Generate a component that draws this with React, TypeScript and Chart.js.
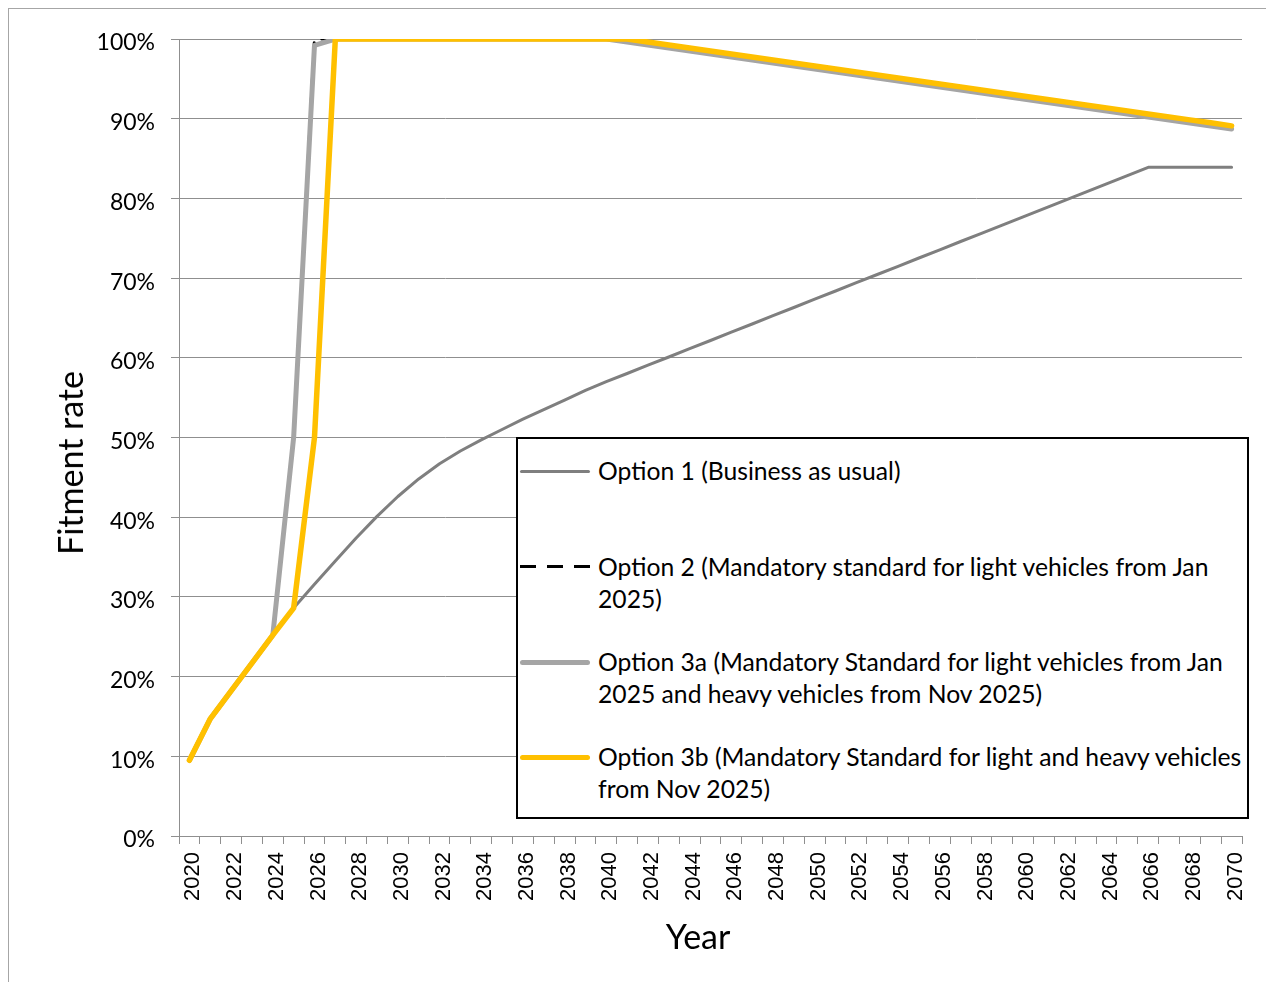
import React, { useEffect, useRef } from "react";
import { Chart, registerables } from "chart.js";

Chart.register(...registerables);

// Categories: calendar years
const years = [
  "2020", "2021", "2022", "2023", "2024", "2025", "2026", "2027", "2028", "2029",
  "2030", "2031", "2032", "2033", "2034", "2035", "2036", "2037", "2038", "2039",
  "2040", "2041", "2042", "2043", "2044", "2045", "2046", "2047", "2048", "2049",
  "2050", "2051", "2052", "2053", "2054", "2055", "2056", "2057", "2058", "2059",
  "2060", "2061", "2062", "2063", "2064", "2065", "2066", "2067", "2068", "2069",
  "2070",
];

// Fitment rate (%) by scenario
const option1 = [
  9.5, 14.7, 18.2, 21.7, 25.2, 28.6, 31.6, 34.5, 37.4, 40.1,
  42.6, 44.8, 46.7, 48.3, 49.7, 51.0, 52.3, 53.5, 54.7, 55.9,
  57.0, 58.03, 59.07, 60.1, 61.14, 62.17, 63.21, 64.24, 65.28, 66.31,
  67.35, 68.38, 69.42, 70.45, 71.48, 72.52, 73.55, 74.59, 75.62, 76.66,
  77.69, 78.73, 79.76, 80.8, 81.83, 82.87, 83.9, 83.9, 83.9, 83.9,
  83.9,
];

const option2 = [
  9.5, 14.7, 18.2, 21.7, 25.2, 50.0, 100, 100, 100, 100,
  100, 100, 100, 100, 100, 100, 100, 100, 100, 100,
  100, 99.62, 99.25, 98.87, 98.49, 98.12, 97.74, 97.36, 96.99, 96.61,
  96.23, 95.86, 95.48, 95.1, 94.73, 94.35, 93.97, 93.6, 93.22, 92.84,
  92.47, 92.09, 91.71, 91.34, 90.96, 90.58, 90.21, 89.83, 89.45, 89.08,
  88.7,
];

const option3a = [
  9.5, 14.7, 18.2, 21.7, 25.2, 50.0, 99.2, 100, 100, 100,
  100, 100, 100, 100, 100, 100, 100, 100, 100, 100,
  100, 99.62, 99.25, 98.87, 98.49, 98.12, 97.74, 97.36, 96.99, 96.61,
  96.23, 95.86, 95.48, 95.1, 94.73, 94.35, 93.97, 93.6, 93.22, 92.84,
  92.47, 92.09, 91.71, 91.34, 90.96, 90.58, 90.21, 89.83, 89.45, 89.08,
  88.7,
];

const option3b = [
  9.5, 14.7, 18.2, 21.7, 25.2, 28.6, 50.0, 100, 100, 100,
  100, 100, 100, 100, 100, 100, 100, 100, 100, 100,
  100, 100, 99.62, 99.25, 98.87, 98.5, 98.12, 97.74, 97.37, 96.99,
  96.62, 96.24, 95.87, 95.49, 95.11, 94.74, 94.36, 93.99, 93.61, 93.23,
  92.86, 92.48, 92.11, 91.73, 91.36, 90.98, 90.6, 90.23, 89.85, 89.48,
  89.1,
];

const legendLabels = [
  "Option 1 (Business as usual)",
  "Option 2 (Mandatory standard for light vehicles from Jan\n2025)",
  "Option 3a (Mandatory Standard for light vehicles from Jan\n2025 and heavy vehicles from Nov 2025)",
  "Option 3b (Mandatory Standard for light and heavy vehicles\nfrom Nov 2025)",
];

const GRID = "#8f8f8f";
const C_OPT1 = "#7f7f7f";
const C_OPT2 = "#000000";
const C_OPT3A = "#a5a5a5";
const C_OPT3B = "#ffc000";

const CANVAS_W = 1261;
const CANVAS_H = 973;

function LegendSample({ kind, top }: { kind: number; top: number }) {
  if (kind === 1) {
    // three dashes for the dashed series
    return (
      <>
        {[0, 27, 54].map((x) => (
          <div
            key={x}
            style={{
              position: "absolute",
              left: 2 + x,
              top: top - 1.5,
              width: 16,
              height: 3,
              background: C_OPT2,
            }}
          />
        ))}
      </>
    );
  }
  const color = kind === 0 ? C_OPT1 : kind === 2 ? C_OPT3A : C_OPT3B;
  const h = kind === 0 ? 3 : 5;
  return (
    <div
      style={{
        position: "absolute",
        left: 2,
        width: 70,
        top: top - h / 2,
        height: h,
        background: color,
        borderRadius: h / 2,
      }}
    />
  );
}

export default function App() {
  const canvasRef = useRef<HTMLCanvasElement | null>(null);

  useEffect(() => {
    if (!canvasRef.current) return;
    const chart = new Chart(canvasRef.current, {
      type: "line",
      data: {
        labels: years,
        datasets: [
          {
            label: legendLabels[0],
            data: option1,
            borderColor: C_OPT1,
            borderWidth: 3,
            order: 3,
          },
          {
            label: legendLabels[1],
            data: option2,
            borderColor: C_OPT2,
            borderWidth: 3,
            borderDash: [16, 11],
            order: 2,
          },
          {
            label: legendLabels[2],
            data: option3a,
            borderColor: C_OPT3A,
            borderWidth: 5,
            order: 1,
          },
          {
            label: legendLabels[3],
            data: option3b,
            borderColor: C_OPT3B,
            borderWidth: 5.5,
            order: 0,
          },
        ].map((d) => ({
          ...d,
          fill: false,
          tension: 0,
          pointRadius: 0,
          pointHoverRadius: 0,
          borderJoinStyle: "round" as const,
          borderCapStyle: "round" as const,
        })),
      },
      options: {
        animation: false,
        responsive: false,
        devicePixelRatio: 1,
        layout: { padding: { left: 0, right: 28, top: 30, bottom: 0 } },
        plugins: {
          legend: { display: false },
          tooltip: { enabled: false },
        },
        scales: {
          x: {
            type: "category",
            offset: true,
            grid: {
              display: true,
              drawOnChartArea: false,
              drawTicks: true,
              tickLength: 8,
              color: GRID,
              offset: true,
            },
            border: { display: true, color: GRID, width: 1 },
            ticks: {
              autoSkip: false,
              minRotation: 90,
              maxRotation: 90,
              padding: 8,
              labelOffset: 4,
              color: "#000",
              font: { family: "Liberation Sans", size: 22 },
              callback: (_v: any, i: number) => (i % 2 === 0 ? years[i] : ""),
            },
            afterFit: (s: any) => {
              s.height = CANVAS_H - 827;
            },
          },
          y: {
            min: 0,
            max: 100,
            grid: { color: GRID, tickLength: 8, drawTicks: true },
            border: { display: true, color: GRID, width: 1 },
            ticks: {
              stepSize: 10,
              padding: 16,
              labelOffset: 4,
              color: "#000",
              font: { family: "Lato", size: 23 },
              callback: (v: any) => v + "%",
            },
            afterFit: (s: any) => {
              s.width = 170;
            },
          },
        },
      },
    });
    return () => chart.destroy();
  }, []);

  const rowCenters = [32, 127.5, 223, 318];

  return (
    <div
      style={{
        position: "relative",
        boxSizing: "border-box",
        width: 1263,
        height: 974,
        borderTop: "1px solid #a6a6a6",
        borderLeft: "1px solid #a6a6a6",
        borderRight: "1px solid #a6a6a6",
        background: "#fff",
      }}
    >
      <canvas
        ref={canvasRef}
        width={CANVAS_W}
        height={CANVAS_H}
        style={{ display: "block", width: CANVAS_W, height: CANVAS_H }}
      />
      {/* Y axis title */}
      <div
        style={{
          position: "absolute",
          left: 70 - 9,
          top: 463 - 9,
          transform: "translate(-50%, -50%) rotate(-90deg)",
          fontFamily: "Lato",
          fontSize: 34,
          lineHeight: "40px",
          whiteSpace: "nowrap",
          color: "#000",
        }}
      >
        Fitment rate
      </div>
      {/* X axis title */}
      <div
        style={{
          position: "absolute",
          left: 698 - 9,
          top: 936 - 9,
          transform: "translate(-50%, -50%)",
          fontFamily: "Lato",
          fontSize: 34,
          lineHeight: "40px",
          whiteSpace: "nowrap",
          color: "#000",
        }}
      >
        Year
      </div>
      {/* Legend */}
      <div
        style={{
          position: "absolute",
          left: 516 - 9,
          top: 437 - 9,
          width: 1249 - 516,
          height: 819 - 437,
          boxSizing: "border-box",
          border: "2px solid #000",
          background: "#fff",
        }}
      >
        {legendLabels.map((txt, i) => (
          <React.Fragment key={i}>
            <LegendSample kind={i} top={rowCenters[i]} />
            <div
              style={{
                position: "absolute",
                left: 80,
                top: rowCenters[i] - 16,
                fontFamily: "Lato",
                fontSize: 24.7,
                lineHeight: "32px",
                whiteSpace: "pre",
                color: "#000",
              }}
            >
              {txt}
            </div>
          </React.Fragment>
        ))}
      </div>
    </div>
  );
}
